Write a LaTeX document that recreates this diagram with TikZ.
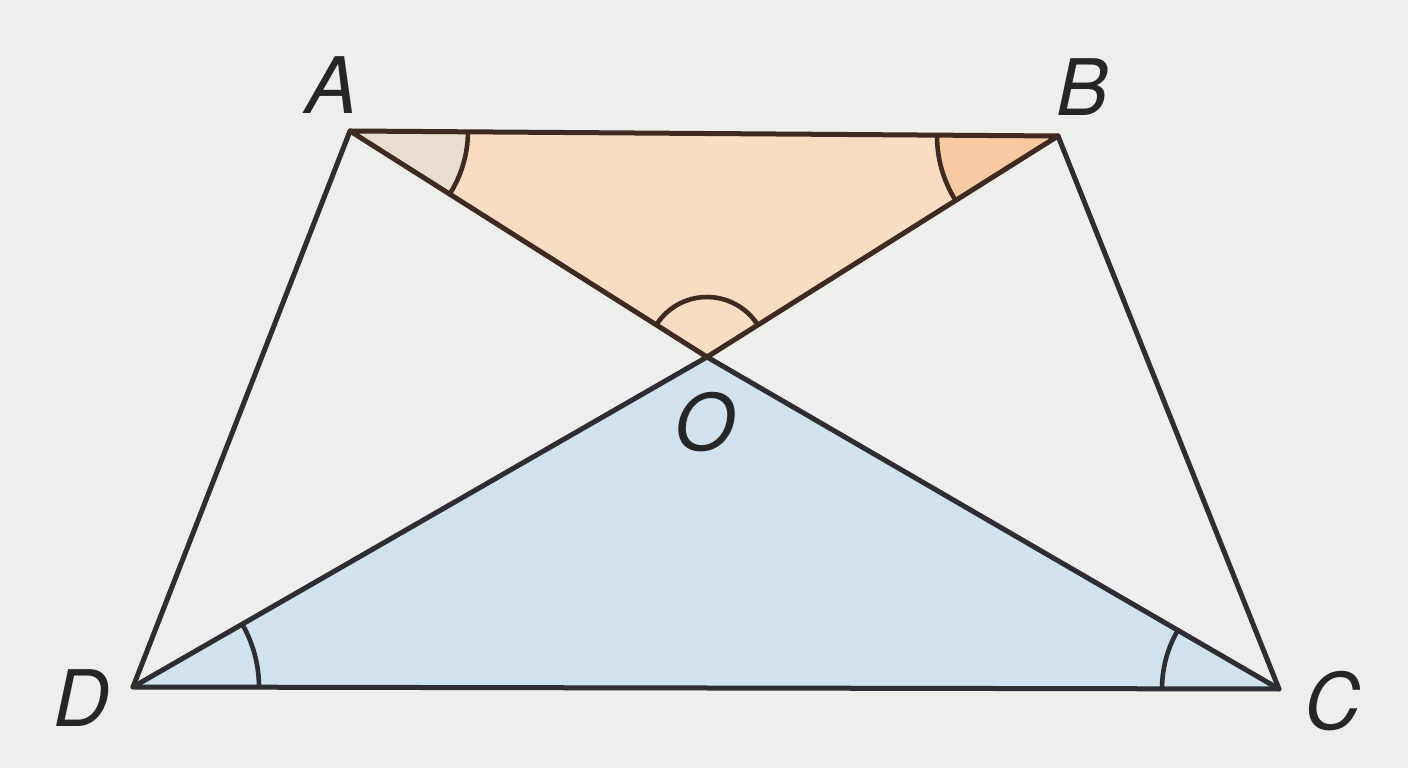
\documentclass[tikz,border=0pt]{standalone}
\usepackage{fontspec}
\setmainfont{TeX Gyre Heros}
\usetikzlibrary{calc}
\definecolor{bg}{RGB}{238,238,236}
\definecolor{orangefill}{RGB}{249,221,194}
\definecolor{angAfill}{RGB}{232,221,208}
\definecolor{angBfill}{RGB}{248,202,162}
\definecolor{bluefill}{RGB}{207,226,238}
\definecolor{browninkline}{RGB}{62,42,32}
\definecolor{greyinkline}{RGB}{45,45,50}
\tikzset{
  edge/.style={line width=5pt, line join=round, line cap=round},
  topedge/.style={edge, draw=browninkline},
  lowedge/.style={edge, draw=greyinkline},
  anglemark/.style={line width=4.6pt},
  vlabel/.style={font=\fontsize{78}{78}\selectfont\itshape, text=black!85, inner sep=0pt}
}
% #1 vertex, #2 first ray point, #3 second ray point (ccw), #4 radius, #5 colour
\newcommand{\AngSector}[5]{%
  \fill[#5] let \p1=($(#2)-(#1)$), \p2=($(#3)-(#1)$),
    \n1={atan2(\y1,\x1)}, \n2={atan2(\y2,\x2)}, \n3={mod(\n2-\n1+720,360)} in
    (#1) -- ($(#1)+(\n1:#4)$) arc[start angle=\n1, delta angle=\n3, radius=#4] -- cycle;}
\newcommand{\AngArc}[5]{%
  \draw[anglemark, #5] let \p1=($(#2)-(#1)$), \p2=($(#3)-(#1)$),
    \n1={atan2(\y1,\x1)}, \n2={atan2(\y2,\x2)}, \n3={mod(\n2-\n1+720,360)} in
    ($(#1)+(\n1:#4)$) arc[start angle=\n1, delta angle=\n3, radius=#4];}
\begin{document}
\begin{tikzpicture}[x=1pt,y=1pt]
\useasboundingbox (0,0) rectangle (1408,768);
\fill[bg] (0,0) rectangle (1408,768);
\coordinate (A) at (350,637);
\coordinate (B) at (1058,632);
\coordinate (C) at (1279,79);
\coordinate (D) at (133,81);
\coordinate (O) at (707,411);
% triangles
\fill[orangefill] (A) -- (B) -- (O) -- cycle;
\fill[bluefill] (D) -- (C) -- (O) -- cycle;
% angle sectors
\AngSector{A}{O}{B}{118pt}{angAfill}
\AngSector{B}{A}{O}{121pt}{angBfill}
% edges
\draw[lowedge] (A) -- (D) -- (C) -- (B);
\draw[lowedge] (D) -- (O) -- (C);
\draw[topedge] (B) -- (A) -- (O) -- (B);
% angle arcs
\AngArc{A}{O}{B}{118pt}{browninkline}
\AngArc{B}{A}{O}{121pt}{browninkline}
\AngArc{O}{B}{A}{60pt}{browninkline}
\AngArc{D}{C}{O}{126pt}{greyinkline}
\AngArc{C}{O}{D}{117pt}{greyinkline}
% labels
\node[vlabel] (lA) at (332,683) {A};
\node[vlabel] (lB) at (1082,681) {B};
\node[vlabel] (lD) at (82,70) {D};
\node[vlabel] (lC) at (1333,67) {C};
\node[vlabel] (lO) at (705,346) {O};
\end{tikzpicture}
\end{document}
